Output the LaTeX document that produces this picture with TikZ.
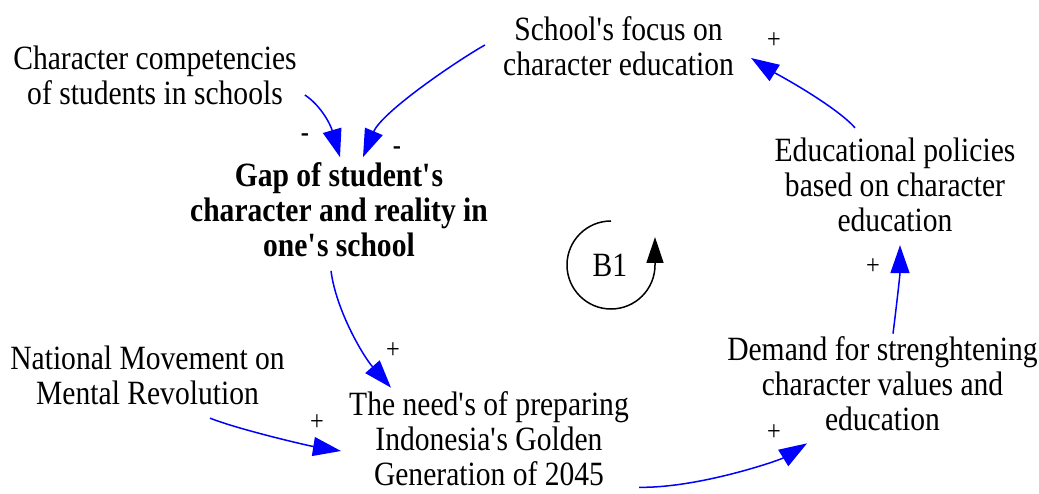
\documentclass[tikz,border=0pt]{standalone}
\usepackage{fontspec}
\setmainfont{Liberation Serif}[FakeStretch=0.87]
\usetikzlibrary{arrows.meta}
\newcommand{\ap}{\textquotesingle}
\begin{document}
\begin{tikzpicture}[x=1pt,y=-1pt,
  var/.style={inner sep=0pt, align=center, font=\fontsize{34}{35}\selectfont},
  link/.style={draw=blue, line width=1.5pt, -{Triangle[length=28pt,width=19pt]}, fill=none},
  pol/.style={inner sep=0pt, font=\fontsize{28}{30}\selectfont}]
\useasboundingbox (0,0) rectangle (1039,494);
\node[var] (cc) at (155,75.6) {Character competencies\\of students in schools};
\node[var] (sf) at (618.5,46) {School\ap s focus on\\character education};
\node[var, font=\fontsize{34}{35}\selectfont\bfseries] (gap) at (339,209.5) {Gap of student\ap s\\character and reality in\\one\ap s school};
\node[var] (ep) at (895,185) {Educational policies\\based on character\\education};
\node[var] (nm) at (147.5,375.5) {National Movement on\\Mental Revolution};
\node[var] (need) at (489,439) {The need\ap s of preparing\\Indonesia\ap s Golden\\Generation of 2045};
\node[var] (dem) at (882.5,384) {Demand for strenghtening\\character values and\\education};
\node[var] (b1) at (610,265) {B1};

\draw[link] ([shift={(8,19.4)}]cc.east) .. controls (320,105) and (330,123) .. ([shift={(1,-5)}]gap.north);
\draw[link] ([shift={(-18,-1)}]sf.west) .. controls (455,62) and (382,112) .. ([shift={(24,-5)}]gap.north);
\draw[link] ([shift={(-8,14)}]gap.south) .. controls (336,310) and (363,356) .. ([shift={(42,-4)}]need.north west);
\draw[link] ([shift={(62.5,13)}]nm.south) .. controls (240,430) and (310,446) .. ([shift={(-8,12)}]need.west);
\draw[link] ([shift={(10,1)}]need.south east) .. controls (700,488) and (780,460) .. ([shift={(80,12)}]dem.south west);
\draw[link] ([shift={(10.5,-3)}]dem.north) .. controls (896,310) and (900,275) .. ([shift={(5,13)}]ep.south);
\draw[link] ([shift={(-40,-10)}]ep.north) .. controls (835,105) and (770,70) .. ([shift={(17,12)}]sf.east);

\node[pol] (s1) at (305,138) {\textbf{-}};
\node[pol] (s2) at (397,151) {\textbf{-}};
\node[pol] (s3) at (393,351) {+};
\node[pol] (s4) at (317,423) {+};
\node[pol] (s5) at (774,433) {+};
\node[pol] (s6) at (873,267) {+};
\node[pol] (s7) at (774,41) {+};

\draw[black, line width=1.5pt, -{Triangle[length=26pt,width=17pt]}]
  (611,221) .. controls (586.7,221) and (567,240.7) .. (567,265)
  .. controls (567,289.3) and (586.7,309) .. (611,309)
  .. controls (635.3,309) and (655,289.3) .. (655,265) -- (655,237);
\end{tikzpicture}
\end{document}
